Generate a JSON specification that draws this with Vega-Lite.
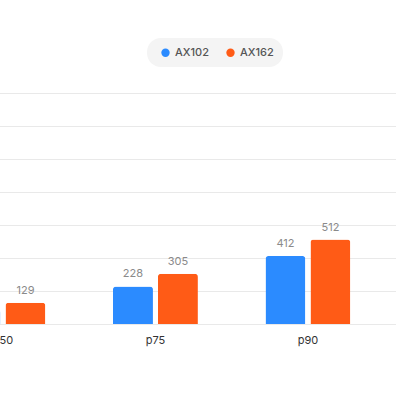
{
  "$schema": "https://vega.github.io/schema/vega-lite/v6.json",
  "width": 396,
  "height": 231,
  "autosize": "none",
  "padding": {"left": 0, "top": 93, "right": 0, "bottom": 72},
  "background": "white",
  "config": {"view": {"stroke": null}, "font": "Inter"},
  "data": {"values": [
    {"p": "p50", "server": "AX102", "v": 85},
    {"p": "p50", "server": "AX162", "v": 129},
    {"p": "p75", "server": "AX102", "v": 228},
    {"p": "p75", "server": "AX162", "v": 305},
    {"p": "p90", "server": "AX102", "v": 412},
    {"p": "p90", "server": "AX162", "v": 512}
  ]},
  "encoding": {
    "x": {"field": "p", "type": "nominal", "sort": ["p50", "p75", "p90"],
      "scale": {"range": [-39.5, 396], "paddingInner": 0.443, "paddingOuter": 0.1495, "align": 0, "round": false},
      "axis": {"title": null, "labelAngle": 0, "ticks": false, "domain": false, "labelPadding": 10, "labelFontSize": 11, "labelColor": "#333333", "labelFont": "Inter"}},
    "xOffset": {"field": "server", "type": "nominal", "scale": {"paddingInner": 0.111, "paddingOuter": 0, "round": false}},
    "y": {"field": "v", "type": "quantitative",
      "scale": {"domain": [0, 1400]},
      "axis": {"title": null, "labels": false, "ticks": false, "domain": false, "values": [0,200,400,600,800,1000,1200,1400], "gridColor": "#e9e9e9", "gridWidth": 1.2}},
    "color": {"field": "server", "type": "nominal",
      "scale": {"domain": ["AX102", "AX162"], "range": ["#2b8bff", "#ff5b16"]},
      "legend": {"title": null, "orient": "none", "legendX": 147, "legendY": -55, "direction": "horizontal",
        "fillColor": "#f4f4f4", "cornerRadius": 14, "padding": 9, "symbolType": "circle", "symbolSize": 70,
        "symbolOffset": 4, "labelFontSize": 11, "labelFontWeight": 500, "labelColor": "#555555", "labelFont": "Inter",
        "columnPadding": 12, "symbolStrokeWidth": 0}}
  },
  "layer": [
    {"mark": {"type": "bar", "cornerRadiusTopLeft": 3, "cornerRadiusTopRight": 3}},
    {"mark": {"type": "text", "dy": -7, "fontSize": 11, "color": "#8a8a8a", "baseline": "bottom", "font": "Inter"},
      "encoding": {"text": {"field": "v", "type": "quantitative"}, "color": {"value": "#8a8a8a"}}}
  ]
}
